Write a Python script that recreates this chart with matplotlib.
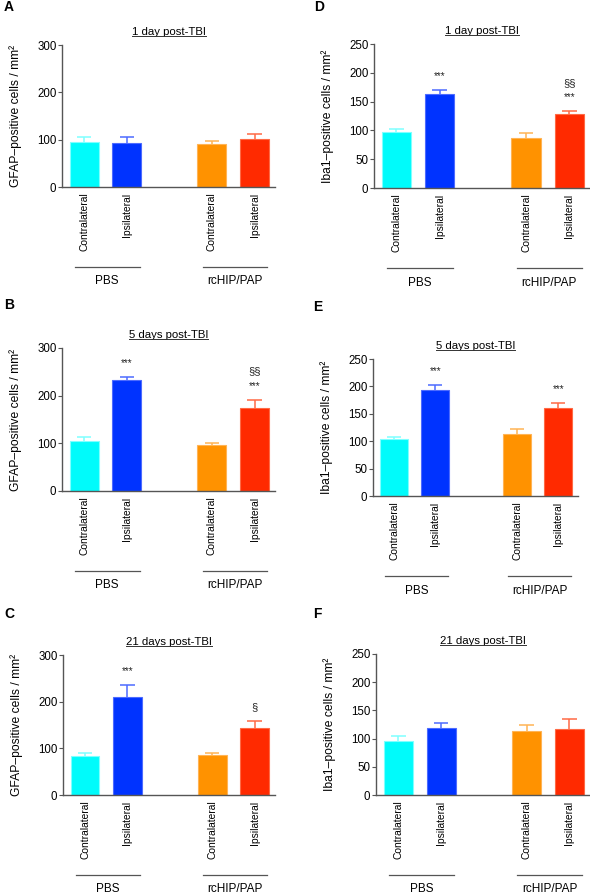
import numpy as np
import matplotlib
matplotlib.use("Agg")
from matplotlib import pyplot as plt
from matplotlib.transforms import ScaledTranslation
from matplotlib.lines import Line2D

plt.rcParams['font.family'] = ['Liberation Sans', 'DejaVu Sans']

# data
conds = ["Contralateral", "Ipsilateral", "Contralateral", "Ipsilateral"]
groups = ["PBS", "rcHIP/PAP"]
xpos = [0, 1, 3, 4]

gfap_1d = [95, 94, 91, 102]
gfap_1d_err = [11, 12, 6, 9]
gfap_5d = [104, 233, 97, 174]
gfap_5d_err = [9, 7, 4, 17]
gfap_21d = [84, 211, 86, 143]
gfap_21d_err = [7, 24, 3, 16]

iba_1d = [97, 163, 87, 128]
iba_1d_err = [5, 8, 8, 5]
iba_5d = [104, 194, 113, 160]
iba_5d_err = [4, 8, 9, 9]
iba_21d = [95, 119, 114, 117]
iba_21d_err = [9, 8, 11, 17]

# significance marks (above the error bar, bottom to top)
sig_A = [[], [], [], []]
sig_B = [[], ["***"], [], ["***", "§§"]]
sig_C = [[], ["***"], [], ["§"]]
sig_D = [[], ["***"], [], ["***", "§§"]]
sig_E = [[], ["***"], [], ["***"]]
sig_F = [[], [], [], []]

colors = ["#00FBFB", "#0033FF", "#FF9200", "#FF2A00"]
edges = ["#7FFFFF", "#4D6BFF", "#FFB455", "#FF6A45"]

W, H = 590, 894
fig = plt.figure(figsize=(W / 100, H / 100), dpi=100)

# panel: (letter, lx, ly, left, right, top, bottom, title, ylabel, ymax, yticks, vals, errs, sig)
panels = [
    ("A", 4, 7, 62, 275, 45, 187, "1 day post-TBI", "GFAP–positive cells / mm²", 300, [0, 100, 200, 300], gfap_1d, gfap_1d_err, sig_A),
    ("B", 4, 305, 62, 275, 348, 491, "5 days post-TBI", "GFAP–positive cells / mm²", 300, [0, 100, 200, 300], gfap_5d, gfap_5d_err, sig_B),
    ("C", 4, 614, 63, 275, 655, 795, "21 days post-TBI", "GFAP–positive cells / mm²", 300, [0, 100, 200, 300], gfap_21d, gfap_21d_err, sig_C),
    ("D", 314, 7, 374, 590, 44, 188, "1 day post-TBI", "Iba1–positive cells / mm²", 250, [0, 50, 100, 150, 200, 250], iba_1d, iba_1d_err, sig_D),
    ("E", 313, 307, 373, 578, 359, 496, "5 days post-TBI", "Iba1–positive cells / mm²", 250, [0, 50, 100, 150, 200, 250], iba_5d, iba_5d_err, sig_E),
    ("F", 313, 614, 376, 590, 654, 795, "21 days post-TBI", "Iba1–positive cells / mm²", 250, [0, 50, 100, 150, 200, 250], iba_21d, iba_21d_err, sig_F),
]

titles = []
for letter, lx, ly, l, r, t, b, title, ylab, ymax, yt, vals, errs, sig in panels:
    ax = fig.add_axes([l / W, 1 - b / H, (r - l) / W, (b - t) / H])
    ax.bar(xpos, vals, width=0.68, color=colors, edgecolor=edges, linewidth=0.8, zorder=2)
    vals = np.array(vals); errs = np.array(errs)
    for i, x in enumerate(xpos):
        ax.vlines(x, vals[i], vals[i] + errs[i], color=edges[i], lw=1.1, zorder=3)
        ax.hlines(vals[i] + errs[i], x - 0.17, x + 0.17, color=edges[i], lw=1.1, zorder=3)
        for k, s in enumerate(sig[i]):
            ax.annotate(s, (x, vals[i] + errs[i]), xytext=(0, 10 + k * 10.5), textcoords="offset points",
                        ha="center", va="center", fontsize=7 if s == "***" else 8, color="#222222")
    ax.set_xlim(-0.52, 4.48)
    ax.set_ylim(0, ymax)
    ax.set_yticks(yt)
    ax.set_xticks(xpos)
    ax.set_xticklabels(conds, rotation=90, fontsize=7.4)
    ax.tick_params(axis="x", length=0, pad=4)
    ax.tick_params(axis="y", length=3, width=0.8, color="#555555", labelsize=8.3, pad=1)
    for sp in ["top", "right"]:
        ax.spines[sp].set_visible(False)
    for sp in ["left", "bottom"]:
        ax.spines[sp].set_color("#555555")
        ax.spines[sp].set_linewidth(1.0)
    ax.set_ylabel(ylab, fontsize=8.7)
    ax.yaxis.set_label_coords(-40 / (r - l), 0.5)
    tt = ax.text(0.5, 1.0, title, transform=ax.transAxes + ScaledTranslation(0, 0.13, fig.dpi_scale_trans),
                 ha="center", va="center", fontsize=8.2)
    titles.append(tt)
    # group lines
    tr_line = ax.get_xaxis_transform() + ScaledTranslation(0, -0.80, fig.dpi_scale_trans)
    tr_txt = ax.get_xaxis_transform() + ScaledTranslation(0, -0.945, fig.dpi_scale_trans)
    for gi, g in enumerate(groups):
        x0 = xpos[2 * gi]; x1 = xpos[2 * gi + 1]
        ax.plot([x0 - 0.22, x1 + 0.3], [0, 0], color="#555555", lw=0.9, transform=tr_line, clip_on=False)
        ax.text((x0 + x1) / 2 + 0.04, 0, g, transform=tr_txt, ha="center", va="center", fontsize=8.5)
    fig.text(lx / W, 1 - ly / H, letter, ha="left", va="center", fontsize=10, fontweight="bold")

# underline the titles
fig.canvas.draw()
rend = fig.canvas.get_renderer()
for tt in titles:
    bb = tt.get_window_extent(rend)
    yl = bb.y0 + 1
    fig.add_artist(Line2D([bb.x0 / W, bb.x1 / W], [yl / H, yl / H], color="#333333", lw=0.7))

fig.savefig("out.png", dpi=100)
